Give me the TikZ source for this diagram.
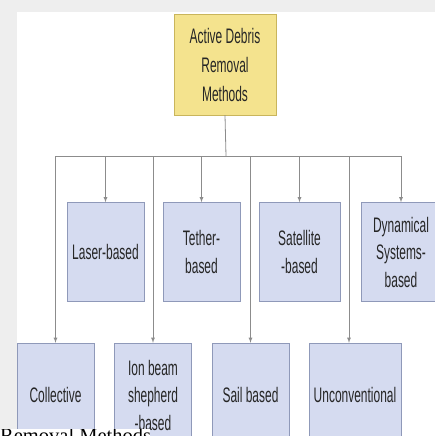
\documentclass[tikz,border=0pt]{standalone}
\usepackage{fontspec}
\newfontfamily\boxfont[FakeStretch=0.57]{Liberation Sans}
\newfontfamily\capfont{Liberation Serif}
\usetikzlibrary{positioning}
\definecolor{rootfill}{HTML}{F4E38E}
\definecolor{rootline}{HTML}{C9B55C}
\definecolor{kidfill}{HTML}{D5DBF0}
\definecolor{kidline}{HTML}{8F99B9}
\definecolor{wire}{HTML}{8C8C8C}
\definecolor{pagegray}{HTML}{EEEEEE}
\tikzset{
  rootbox/.style={draw=rootline, fill=rootfill, minimum width=102pt, minimum height=101pt,
    align=center, text=black!85, font=\boxfont\fontsize{21}{29}\selectfont},
  kidbox/.style={draw=kidline, fill=kidfill, minimum width=77pt, minimum height=99pt,
    align=center, text=black!85, font=\boxfont\fontsize{21}{27.5}\selectfont},
  wireline/.style={draw=wire, line width=0.8pt},
  wirearrow/.style={draw=wire, line width=0.8pt, ->, >=latex},
}
\begin{document}
\begin{tikzpicture}[x=1pt,y=-1pt]
\useasboundingbox (0,0) rectangle (435,436);
\clip (0,0) rectangle (435,436);
\fill[pagegray] (0,0) rectangle (435,436);
\fill[white] (17,12) rectangle (435,436);

\node[rootbox] (root) at (225,64.5) {Active Debris\\Removal\\Methods};

\node[kidbox] (laser) at (105.5,252) {Laser-based};
\node[kidbox] (tether) at (201.5,252) {Tether-\\based};
\node[kidbox, minimum width=81pt] (sat) at (299.5,252) {Satellite\\-based};
\node[kidbox, minimum width=80pt] (dyn) at (401,252) {Dynamical\\Systems-\\based};

\node[kidbox, minimum height=104pt] (coll) at (55.5,395) {Collective};
\node[kidbox, minimum height=104pt] (ion) at (153,395) {Ion beam\\shepherd\\-based};
\node[kidbox, minimum height=104pt] (sail) at (250.5,395) {Sail based};
\node[kidbox, minimum height=104pt, minimum width=92pt] (unc) at (355,395) {Unconventional};

\coordinate (bus) at (226,156);
\coordinate (uncdrop) at (349,156);

\path[wireline] (root.south) -- (bus);
\path[wireline] (bus -| coll.north) -- (bus -| dyn.north);
\foreach \kid in {laser,tether,sat,dyn,coll,ion,sail}
  \path[wirearrow] (bus -| \kid.north) -- (\kid.north);
\path[wirearrow] (uncdrop) -- (uncdrop |- unc.north);

% caption strip cut off at the lower left
\begin{scope}
\clip (0,429) rectangle (150,436);
\fill[white] (0,429) rectangle (150,436);
\node[anchor=north west, inner sep=0pt, font=\capfont\fontsize{20.5}{24}\selectfont] (cap) at (0,428) {Removal Methods};
\end{scope}
\end{tikzpicture}
\end{document}
